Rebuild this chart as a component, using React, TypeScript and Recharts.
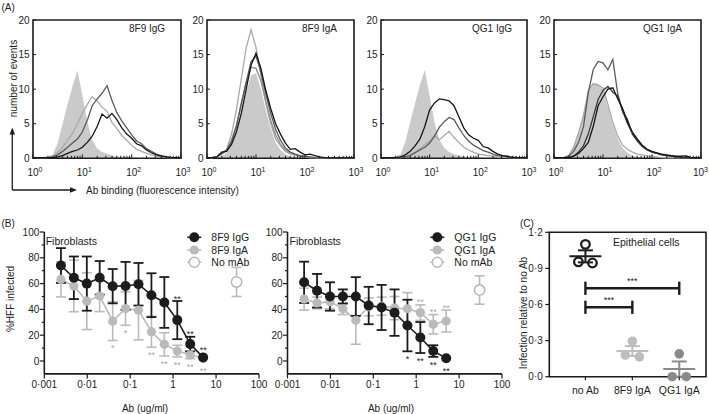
import React from 'react';
import { ComposedChart, Line, Area, XAxis, YAxis, ErrorBar, Scatter, ReferenceArea, ReferenceLine } from 'recharts';

const FONT = '"Liberation Sans", Arial, Helvetica, sans-serif';
const INK = '#1c1c1c';
const W = 709;
const H = 414;

// ---------------- Panel A : flow cytometry histograms ----------------
const histLogBins = [0, 0.1, 0.2, 0.3, 0.4, 0.5, 0.6, 0.7, 0.8, 0.9, 1.0, 1.1, 1.2, 1.3, 1.4, 1.5, 1.6, 1.7, 1.8, 1.9, 2.0, 2.1, 2.2, 2.3, 2.4, 2.5, 2.6, 2.7, 2.8, 2.9, 3.0];
const histTicks = [1, 2, 3, 4, 5, 6, 7, 8, 9, 10, 20, 30, 40, 50, 60, 70, 80, 90, 100, 200, 300, 400, 500, 600, 700, 800, 900, 1000];
const countTicks = [0, 5, 10, 15, 20];

const p1Ctrl = [0.1, 0.1, 0.2, 0.3, 0.5, 2.2, 5.0, 7.8, 10.4, 12.7, 9.2, 5.3, 2.6, 1.4, 0.9, 0.7, 0.4, 0.25, 0.15, 0.1, 0.1, 0.05, 0.05, 0.05, 0.05, 0.05, 0.05, 0.05, 0.05, 0.05, 0.05];
const p1Light = [0.1, 0.1, 0.1, 0.1, 0.3, 0.8, 1.6, 2.6, 3.6, 5.0, 6.5, 7.8, 8.9, 8.3, 7.4, 6.8, 5.2, 4.3, 3.3, 2.6, 1.9, 1.3, 1.0, 0.7, 0.5, 0.3, 0.2, 0.1, 0.1, 0.1, 0.05];
const p1Dark = [0.1, 0.1, 0.1, 0.1, 0.2, 0.5, 1.0, 1.6, 2.2, 2.8, 3.8, 5.5, 7.6, 8.6, 9.4, 10.5, 8.4, 6.6, 5.4, 4.4, 3.4, 2.5, 2.1, 1.4, 1.0, 0.6, 0.4, 0.2, 0.1, 0.1, 0.05];
const p1Black = [0.1, 0.1, 0.1, 0.1, 0.1, 0.2, 0.4, 0.7, 1.0, 1.2, 1.6, 2.3, 3.2, 4.6, 6.4, 5.8, 6.5, 5.6, 4.4, 3.5, 2.9, 2.1, 1.8, 1.2, 0.8, 0.5, 0.3, 0.2, 0.1, 0.1, 0.05];

const p2Ctrl = [0.05, 0.05, 0.1, 0.3, 0.8, 2.0, 3.8, 6.5, 9.5, 12.0, 12.3, 10.0, 7.0, 4.3, 2.3, 1.2, 0.6, 0.3, 0.15, 0.1, 0.05, 0.05, 0.05, 0.05, 0.05, 0.05, 0.05, 0.05, 0.05, 0.05, 0.05];
const p2Light = [0.1, 0.1, 0.2, 0.8, 1.3, 3.5, 7.0, 11.5, 16.0, 18.6, 16.0, 12.0, 8.0, 5.0, 2.8, 1.8, 1.0, 0.6, 0.5, 0.3, 0.2, 0.1, 0.1, 0.05, 0.05, 0.05, 0.05, 0.05, 0.05, 0.05, 0.05];
const p2Mid = [0.1, 0.1, 0.2, 0.6, 1.2, 2.6, 4.8, 8.0, 11.0, 13.2, 13.0, 11.2, 8.2, 5.5, 3.4, 2.0, 1.2, 0.8, 0.5, 0.3, 0.2, 0.1, 0.1, 0.05, 0.05, 0.05, 0.05, 0.05, 0.05, 0.05, 0.05];
const p2Dark = [0.1, 0.1, 0.2, 0.7, 1.1, 2.4, 4.6, 7.8, 11.0, 14.0, 14.8, 12.5, 9.3, 6.5, 4.2, 2.6, 1.5, 0.9, 0.6, 0.4, 0.3, 0.2, 0.1, 0.05, 0.05, 0.05, 0.05, 0.05, 0.05, 0.05, 0.05];
const p2Black = [0.1, 0.1, 0.2, 0.9, 1.0, 2.0, 3.8, 6.5, 10.0, 13.5, 15.2, 13.0, 9.8, 7.2, 5.0, 3.5, 2.2, 1.3, 1.4, 0.9, 0.5, 0.6, 0.4, 0.2, 0.1, 0.05, 0.05, 0.05, 0.05, 0.05, 0.05];

const p3Ctrl = [0.1, 0.1, 0.2, 0.3, 0.6, 2.4, 5.2, 8.0, 10.6, 12.8, 9.0, 5.2, 2.7, 1.5, 0.9, 0.6, 0.4, 0.25, 0.15, 0.1, 0.1, 0.05, 0.05, 0.05, 0.05, 0.05, 0.05, 0.05, 0.05, 0.05, 0.05];
const p3Light = [0.1, 0.1, 0.1, 0.1, 0.1, 0.2, 0.5, 0.9, 1.4, 2.0, 2.5, 3.3, 2.7, 3.3, 3.9, 3.0, 2.3, 1.6, 1.2, 0.9, 0.6, 0.5, 0.4, 0.3, 0.2, 0.15, 0.1, 0.1, 0.05, 0.05, 0.05];
const p3Dark = [0.1, 0.1, 0.1, 0.1, 0.1, 0.2, 0.4, 0.8, 1.2, 1.6, 2.2, 3.2, 4.5, 5.3, 5.9, 5.6, 4.4, 3.3, 2.5, 1.9, 1.5, 1.1, 0.9, 0.6, 0.4, 0.3, 0.2, 0.1, 0.1, 0.05, 0.05];
const p3Black = [0.1, 0.1, 0.1, 0.1, 0.2, 0.5, 1.0, 1.8, 2.8, 4.6, 7.0, 8.0, 8.6, 8.5, 8.3, 7.6, 6.0, 4.4, 3.4, 2.9, 2.6, 1.7, 1.5, 1.0, 0.6, 0.4, 0.3, 0.15, 0.1, 0.1, 0.05];

const p4Ctrl = [0.05, 0.05, 0.1, 0.6, 1.8, 4.0, 6.5, 9.5, 10.8, 10.8, 10.0, 7.5, 4.8, 2.8, 1.5, 0.8, 0.4, 0.2, 0.1, 0.05, 0.05, 0.05, 0.05, 0.05, 0.05, 0.05, 0.05, 0.05, 0.05, 0.05, 0.05];
const p4Light = [0.1, 0.1, 0.1, 0.4, 1.6, 3.6, 6.1, 9.8, 10.8, 10.6, 10.2, 7.8, 5.2, 3.2, 1.9, 1.3, 0.9, 0.6, 0.5, 0.4, 0.3, 0.2, 0.1, 0.05, 0.05, 0.05, 0.05, 0.05, 0.05, 0.05, 0.05];
const p4Dark = [0.1, 0.1, 0.1, 0.3, 1.0, 2.3, 4.5, 9.5, 12.8, 14.0, 13.8, 12.8, 14.3, 9.4, 6.8, 5.0, 3.6, 2.6, 1.8, 1.3, 0.9, 0.7, 0.5, 0.4, 0.3, 0.2, 0.1, 0.05, 0.05, 0.05, 0.05];
const p4Black = [0.1, 0.1, 0.1, 0.1, 0.3, 0.7, 1.4, 2.3, 4.6, 7.6, 8.9, 10.0, 10.2, 8.6, 7.2, 5.2, 3.8, 2.8, 1.9, 1.3, 1.0, 0.8, 0.6, 0.5, 0.4, 0.3, 0.3, 0.35, 0.1, 0.05, 0.05];
const p4Black2 = [0.1, 0.1, 0.1, 0.1, 0.3, 0.9, 1.8, 3.5, 6.0, 8.5, 9.8, 10.4, 9.6, 9.0, 6.8, 5.6, 3.5, 2.5, 1.7, 1.2, 0.9, 0.7, 0.5, 0.4, 0.3, 0.2, 0.1, 0.1, 0.05, 0.05, 0.05];

const C_LIGHT = '#a9a9a9';
const C_MID = '#8c8c8c';
const C_DARK = '#5a5a5a';
const C_BLACK = '#151515';
const C_BLACK2 = '#383838';
const C_FILL = '#cacaca';

const histPanels = [
  { title: '8F9 IgG', x0: 33, x1: 181, titleX: 129, ctrl: p1Ctrl, lines: [{ v: p1Light, c: C_LIGHT }, { v: p1Dark, c: C_DARK }, { v: p1Black, c: C_BLACK }] },
  { title: '8F9 IgA', x0: 207, x1: 354, titleX: 302, ctrl: p2Ctrl, lines: [{ v: p2Light, c: C_LIGHT }, { v: p2Mid, c: C_MID }, { v: p2Dark, c: C_DARK }, { v: p2Black, c: C_BLACK }] },
  { title: 'QG1 IgG', x0: 381, x1: 527, titleX: 472, ctrl: p3Ctrl, lines: [{ v: p3Light, c: C_LIGHT }, { v: p3Dark, c: C_DARK }, { v: p3Black, c: C_BLACK }] },
  { title: 'QG1 IgA', x0: 554, x1: 701, titleX: 643, ctrl: p4Ctrl, lines: [{ v: p4Light, c: C_LIGHT }, { v: p4Dark, c: C_DARK }, { v: p4Black2, c: C_BLACK2 }, { v: p4Black, c: C_BLACK }] },
];
const A_Y0 = 20;
const A_Y1 = 158.3;

// ---------------- Panel B : neutralisation on fibroblasts ----------------
const doseConc = [0.00244, 0.00488, 0.00977, 0.0195, 0.0391, 0.0781, 0.156, 0.3125, 0.625, 1.25, 2.5, 5];
const doseTicks = [0.001, 0.01, 0.1, 1, 10, 100];
const pctTicks = [0, 10, 20, 30, 40, 50, 60, 70, 80, 90, 100];
const noMabConc = 30;

const f8IgG = [74, 64.5, 60, 64.5, 58, 58.2, 59.5, 51, 45.4, 31.7, 13.1, 2.8];
const f8IgGErr = [13.5, 16.5, 21, 13, 13.3, 18.6, 16.5, 17, 19.7, 14.8, 5.7, 0];
const f8IgA = [63.2, 58.2, 46.4, 50.3, 30.9, 40.7, 39.4, 22.7, 12.9, 7.7, 4.8, 2];
const f8IgAErr = [13.5, 20, 22, 12, 15, 13, 23, 12, 9, 4.5, 3, 0];
const f8IgGStars = ['', '', '', '', '', '', '', '', '', '**', '**', '**'];
const f8IgAStars = ['', '', '', '', '*', '*', '', '**', '**', '**', '**', '**'];
const f8NoMab = 61.3;
const f8NoMabErr = 11.3;

const qgIgG = [61, 54.5, 50, 50, 50, 43, 41.5, 37.5, 27.5, 18.2, 7.7, 2.2];
const qgIgGErr = [16, 13, 11, 5.5, 15, 14.5, 17.5, 18, 20, 12, 4.5, 0];
const qgIgA = [48, 45, 46, 40.5, 31.5, 42, 42.5, 41, 40.5, 37.5, 28.5, 31];
const qgIgAErr = [8.5, 4.5, 5.5, 4.5, 18.5, 7, 7, 9, 12.5, 6, 7.5, 8.5];
const qgIgGStars = ['', '', '', '', '', '', '', '', '*', '**', '**', '**'];
const qgIgAStars = ['', '', '', '', '', '', '', '', '', '**', '**', '**'];
const qgNoMab = 55;
const qgNoMabErr = 11;

const B_Y0 = 232;
const B_Y1 = 373.9;
const C_GRAY = '#bababa';

// ---------------- Panel C : epithelial cells ----------------
const cGroups = ['no Ab', '8F9 IgA', 'QG1 IgA'];
const cNoAb = [1.1, 0.955, 0.945];
const c8F9IgA = [0.295, 0.18, 0.165];
const cQG1IgA = [0.19, 0.0, 0.0];
const cJitter = [0, -0.15, 0.15];
const cTicks = [0, 0.3, 0.6, 0.9, 1.2];
const cComparisons = [
  { from: 0, to: 2, y: 0.735, label: '***' },
  { from: 0, to: 1, y: 0.577, label: '***' },
];
const C_X0 = 549.3;
const C_X1 = 706;
const C_Y0 = 232.3;
const C_Y1 = 376.7;

const mean = (a: number[]) => a.reduce((s, v) => s + v, 0) / a.length;
const sem = (a: number[]) => {
  const m = mean(a);
  return Math.sqrt(a.reduce((s, v) => s + (v - m) * (v - m), 0) / (a.length - 1)) / Math.sqrt(a.length);
};
const dot = (v: number) => String(v).replace('.', '\u00b7');

const layer: React.CSSProperties = { position: 'absolute', left: 0, top: 0 };

// ---------- ticks ----------
const LogTick = (p: any) => {
  const v = p.payload.value;
  const lg = Math.log10(v);
  const e = Math.round(lg);
  const major = Math.abs(lg - e) < 1e-6;
  const lx = Math.min(p.x + 2, W - 8.5);
  return (
    <g>
      <line x1={p.x} x2={p.x} y1={p.y} y2={p.y - (major ? 4 : 2.5)} stroke={INK} strokeWidth={1} />
      {major ? (
        <text x={lx} y={p.y + 18} textAnchor="middle" fontSize={10} fontFamily={FONT} fill={INK}>
          10<tspan fontSize={7} dy={-4.5}>{e}</tspan>
        </text>
      ) : null}
    </g>
  );
};

const CountTick = (p: any) => (
  <g>
    <line x1={p.x} x2={p.x + 3} y1={p.y} y2={p.y} stroke={INK} strokeWidth={1} />
    <text x={p.x - 3.5} y={p.y} dy="0.35em" textAnchor="end" fontSize={10} fontFamily={FONT} fill={INK}>
      {p.payload.value}
    </text>
  </g>
);

const PctTick = (p: any) => {
  const v = p.payload.value;
  const major = v % 20 === 0;
  return (
    <g>
      <line x1={p.x} x2={p.x - (major ? 4.5 : 2.5)} y1={p.y} y2={p.y} stroke={INK} strokeWidth={1.2} />
      {major ? (
        <text x={p.x - 5} y={p.y} dy="0.35em" textAnchor="end" fontSize={10} fontFamily={FONT} fill={INK}>
          {v}
        </text>
      ) : null}
    </g>
  );
};

// ---------- panels ----------
function HistPanel({ panel }: { panel: any }) {
  const rows = histLogBins.map((l, i) => {
    const r: any = { x: Math.pow(10, l), ctrl: panel.ctrl[i] };
    panel.lines.forEach((ln: any, k: number) => {
      r['s' + k] = ln.v[i];
    });
    return r;
  });
  return (
    <div style={layer}>
      <ComposedChart
        width={W}
        height={H}
        data={rows}
        margin={{ top: A_Y0, bottom: H - A_Y1 - 30, left: panel.x0 - 30, right: W - panel.x1 }}
      >
        <XAxis
          dataKey="x"
          type="number"
          scale="log"
          domain={[1, 1000]}
          ticks={histTicks}
          interval={0}
          height={30}
          axisLine={false}
          tickLine={false}
          tickSize={0}
          tickMargin={0}
          tick={(p: any) => <LogTick {...p} />}
        />
        <YAxis
          type="number"
          domain={[0, 20]}
          ticks={countTicks}
          interval={0}
          width={30}
          axisLine={false}
          tickLine={false}
          tickSize={0}
          tickMargin={0}
          tick={(p: any) => <CountTick {...p} />}
        />
        <Area dataKey="ctrl" type="linear" fill={C_FILL} fillOpacity={1} stroke="none" isAnimationActive={false} />
        {panel.lines.map((ln: any, k: number) => (
          <Line key={k} dataKey={'s' + k} type="linear" stroke={ln.c} strokeWidth={1.3} dot={false} isAnimationActive={false} />
        ))}
        <ReferenceArea x1={1} x2={1000} y1={0} y2={20} fill="none" stroke={INK} strokeWidth={1.6} ifOverflow="visible" />
      </ComposedChart>
    </div>
  );
}

function starRows(vals: number[], errs: number[], stars: string[], below: boolean) {
  return doseConc
    .map((c, i) => ({
      conc: c,
      pos: below ? vals[i] - Math.max(errs[i], 3.5) : vals[i] + Math.max(errs[i], 3.5),
      s: stars[i],
      below,
    }))
    .filter((r) => r.s);
}

const starShape = (color: string) => (p: any) => (
  <text
    x={p.cx}
    y={p.payload.below ? p.cy + 11 : p.cy + 0.5}
    textAnchor="middle"
    fontSize={9}
    fontFamily={FONT}
    fill={color}
  >
    {p.payload.s}
  </text>
);

function DosePanel(props: any) {
  const { x0, x1, igg, iggErr, iga, igaErr, iggStars, igaStars, iggBelow, noMab, noMabErr } = props;
  const rows = doseConc.map((c, i) => ({ conc: c, igg: igg[i], iggErr: iggErr[i], iga: iga[i], igaErr: igaErr[i] }));
  const noMabRows = [{ conc: noMabConc, v: noMab, err: noMabErr }];
  return (
    <div style={layer}>
      <ComposedChart
        width={W}
        height={H}
        data={rows}
        margin={{ top: B_Y0, bottom: H - B_Y1 - 30, left: x0 - 30, right: W - x1 }}
      >
        <XAxis
          dataKey="conc"
          type="number"
          scale="log"
          domain={[0.001, 100]}
          ticks={doseTicks}
          interval={0}
          height={30}
          axisLine={{ stroke: INK, strokeWidth: 1.6 }}
          tickLine={{ stroke: INK, strokeWidth: 1.2 }}
          tickSize={4.5}
          tickMargin={2}
          tickFormatter={dot}
          tick={{ fontSize: 10, fill: INK, fontFamily: FONT }}
        />
        <YAxis
          type="number"
          domain={[-10, 100]}
          ticks={pctTicks}
          interval={0}
          width={30}
          axisLine={{ stroke: INK, strokeWidth: 1.6 }}
          tickLine={false}
          tickSize={0}
          tickMargin={0}
          tick={(p: any) => <PctTick {...p} />}
        />
        <Line
          dataKey="iga"
          type="linear"
          stroke={C_GRAY}
          strokeWidth={1.6}
          dot={{ r: 4.6, fill: C_GRAY, stroke: C_GRAY, strokeWidth: 0 }}
          isAnimationActive={false}
        >
          <ErrorBar dataKey="igaErr" width={5} stroke={C_GRAY} strokeWidth={1.6} direction="y" />
        </Line>
        <Line
          dataKey="igg"
          type="linear"
          stroke={INK}
          strokeWidth={1.6}
          dot={{ r: 5, fill: INK, stroke: INK, strokeWidth: 0 }}
          isAnimationActive={false}
        >
          <ErrorBar dataKey="iggErr" width={5} stroke={INK} strokeWidth={1.8} direction="y" />
        </Line>
        <Scatter
          data={noMabRows}
          dataKey="v"
          isAnimationActive={false}
          shape={(p: any) => <circle cx={p.cx} cy={p.cy} r={5.2} fill="#fff" stroke={C_GRAY} strokeWidth={1.6} />}
        >
          <ErrorBar dataKey="err" width={5} stroke={C_GRAY} strokeWidth={1.6} direction="y" />
        </Scatter>
        <Scatter data={starRows(iga, igaErr, igaStars, !iggBelow)} dataKey="pos" isAnimationActive={false} shape={starShape('#a8a8a8')} />
        <Scatter data={starRows(igg, iggErr, iggStars, iggBelow)} dataKey="pos" isAnimationActive={false} shape={starShape(INK)} />
      </ComposedChart>
    </div>
  );
}

const cSets = [
  { values: cNoAb, color: INK, open: true },
  { values: c8F9IgA, color: '#bdbdbd', open: false },
  { values: cQG1IgA, color: '#8a8a8a', open: false },
];

function EpiPanel() {
  const segs: any[] = [];
  cSets.forEach((set, g) => {
    const m = mean(set.values);
    const se = sem(set.values);
    segs.push({ a: { x: g - 0.34, y: m }, b: { x: g + 0.34, y: m }, c: set.color, w: 2 });
    segs.push({ a: { x: g, y: m - se }, b: { x: g, y: m + se }, c: set.color, w: 2 });
    segs.push({ a: { x: g - 0.16, y: m + se }, b: { x: g + 0.16, y: m + se }, c: set.color, w: 2 });
    segs.push({ a: { x: g - 0.16, y: m - se }, b: { x: g + 0.16, y: m - se }, c: set.color, w: 2 });
  });
  const brackets: any[] = [];
  cComparisons.forEach((cmp) => {
    brackets.push({ a: { x: cmp.from, y: cmp.y }, b: { x: cmp.to, y: cmp.y } });
    brackets.push({ a: { x: cmp.from, y: cmp.y - 0.055 }, b: { x: cmp.from, y: cmp.y + 0.055 } });
    brackets.push({ a: { x: cmp.to, y: cmp.y - 0.055 }, b: { x: cmp.to, y: cmp.y + 0.055 } });
  });
  const starData = cComparisons.map((cmp) => ({ x: (cmp.from + cmp.to) / 2, v: cmp.y, s: cmp.label }));
  return (
    <div style={layer}>
      <ComposedChart
        width={W}
        height={H}
        margin={{ top: C_Y0, bottom: H - C_Y1 - 30, left: C_X0 - 30, right: W - C_X1 }}
      >
        <XAxis
          dataKey="x"
          type="number"
          domain={[-0.77, 2.57]}
          ticks={[0, 1, 2]}
          interval={0}
          height={30}
          axisLine={false}
          tickLine={{ stroke: INK, strokeWidth: 1.2 }}
          tickSize={3.5}
          tickMargin={6.5}
          tickFormatter={(v: number) => cGroups[v]}
          tick={{ fontSize: 10.5, fill: INK, fontFamily: FONT }}
        />
        <YAxis
          type="number"
          domain={[0, 1.2]}
          ticks={cTicks}
          interval={0}
          width={30}
          axisLine={false}
          tickLine={{ stroke: INK, strokeWidth: 1.2 }}
          tickSize={4}
          tickMargin={2.5}
          tickFormatter={(v: number) => v.toFixed(1).replace('.', '\u00b7')}
          tick={{ fontSize: 10, fill: INK, fontFamily: FONT }}
        />
        <ReferenceArea x1={-0.77} x2={2.57} y1={0} y2={1.2} fill="none" stroke={INK} strokeWidth={1.6} ifOverflow="visible" />
        {cSets.map((set, g) => (
          <Scatter
            key={'pts' + g}
            data={set.values.map((v, j) => ({ x: g + cJitter[j], v }))}
            dataKey="v"
            isAnimationActive={false}
            shape={(p: any) => (
              <circle
                cx={p.cx}
                cy={p.cy}
                r={set.open ? 4.3 : 4.8}
                fill={set.open ? 'none' : set.color}
                stroke={set.color}
                strokeWidth={set.open ? 2.3 : 0}
              />
            )}
          />
        ))}
        {segs.map((s, i) => (
          <ReferenceLine key={'m' + i} segment={[s.a, s.b]} stroke={s.c} strokeWidth={s.w} ifOverflow="visible" />
        ))}
        {brackets.map((s, i) => (
          <ReferenceLine key={'b' + i} segment={[s.a, s.b]} stroke={INK} strokeWidth={2.4} ifOverflow="visible" />
        ))}
        <Scatter
          data={starData}
          dataKey="v"
          isAnimationActive={false}
          shape={(p: any) => (
            <text x={p.cx} y={p.cy - 4} textAnchor="middle" fontSize={9} fontFamily={FONT} fill={INK}>
              {p.payload.s}
            </text>
          )}
        />
      </ComposedChart>
    </div>
  );
}

function LegendRow({ x, y, label, color, r, open }: any) {
  return (
    <g>
      <line x1={x - 7} x2={x + 7} y1={y} y2={y} stroke={color} strokeWidth={1.6} />
      <circle cx={x} cy={y} r={r} fill={open ? '#fff' : color} stroke={color} strokeWidth={open ? 1.5 : 0} />
      <text x={x + 17} y={y} dy="0.35em" fontSize={10.5} fontFamily={FONT} fill={INK}>
        {label}
      </text>
    </g>
  );
}

function Annotations() {
  const t = { fontFamily: FONT, fill: INK } as any;
  return (
    <svg width={W} height={H} style={layer}>
      <text x={1.5} y={10.5} fontSize={10} {...t}>(A)</text>
      <line x1={12.3} y1={190} x2={12.3} y2={133} stroke={INK} strokeWidth={1.3} />
      <polygon points="12.3,127.5 9.6,134.5 15,134.5" fill={INK} />
      <line x1={12.3} y1={190} x2={71} y2={190} stroke={INK} strokeWidth={1.3} />
      <polygon points="77,190 70,187.3 70,192.7" fill={INK} />
      <text transform="translate(13,78.5) rotate(-90)" textAnchor="middle" dy="0.35em" fontSize={10} {...t}>
        number of events
      </text>
      <text x={86} y={190} dy="0.35em" fontSize={10} {...t}>Ab binding (fluorescence intensity)</text>
      {histPanels.map((p) => (
        <text key={p.title} x={p.titleX} y={28.3} dy="0.35em" fontSize={10} {...t}>
          {p.title}
        </text>
      ))}

      <text x={1.5} y={226.8} fontSize={10} {...t}>(B)</text>
      <text transform="translate(10,299) rotate(-90)" textAnchor="middle" dy="0.35em" fontSize={10} {...t}>
        %HFF infected
      </text>
      <text x={45.7} y={241.7} dy="0.35em" fontSize={10.5} {...t}>Fibroblasts</text>
      <text x={289.5} y={241.7} dy="0.35em" fontSize={10.5} {...t}>Fibroblasts</text>
      <LegendRow x={194.3} y={237.3} label="8F9 IgG" color={INK} r={5} />
      <LegendRow x={194.3} y={250} label="8F9 IgA" color={C_GRAY} r={4.6} />
      <LegendRow x={194.3} y={262.3} label="No mAb" color={C_GRAY} r={5} open />
      <LegendRow x={437.3} y={237.3} label="QG1 IgG" color={INK} r={5} />
      <LegendRow x={437.3} y={250} label="QG1 IgA" color={C_GRAY} r={4.6} />
      <LegendRow x={437.3} y={262.3} label="No mAb" color={C_GRAY} r={5} open />
      <text x={145} y={408} dy="0.35em" textAnchor="middle" fontSize={10} {...t}>Ab (ug/ml)</text>
      <text x={391} y={408} dy="0.35em" textAnchor="middle" fontSize={10} {...t}>Ab (ug/ml)</text>

      <text x={520} y={226.6} fontSize={10} {...t}>(C)</text>
      <text transform="translate(523,313) rotate(-90)" textAnchor="middle" dy="0.35em" fontSize={10} {...t}>
        Infection relative to no Ab
      </text>
      <text x={613} y={242.7} dy="0.35em" fontSize={10.5} {...t}>Epithelial cells</text>
    </svg>
  );
}

export default function App() {
  return (
    <div style={{ position: 'absolute', left: 0, top: 0, width: W, height: H, background: '#fff', overflow: 'hidden' }}>
      {histPanels.map((p) => (
        <HistPanel key={p.title} panel={p} />
      ))}
      <DosePanel
        x0={44.3}
        x1={259}
        igg={f8IgG}
        iggErr={f8IgGErr}
        iga={f8IgA}
        igaErr={f8IgAErr}
        iggStars={f8IgGStars}
        igaStars={f8IgAStars}
        iggBelow={false}
        noMab={f8NoMab}
        noMabErr={f8NoMabErr}
      />
      <DosePanel
        x0={287.5}
        x1={502}
        igg={qgIgG}
        iggErr={qgIgGErr}
        iga={qgIgA}
        igaErr={qgIgAErr}
        iggStars={qgIgGStars}
        igaStars={qgIgAStars}
        iggBelow={true}
        noMab={qgNoMab}
        noMabErr={qgNoMabErr}
      />
      <EpiPanel />
      <Annotations />
    </div>
  );
}
